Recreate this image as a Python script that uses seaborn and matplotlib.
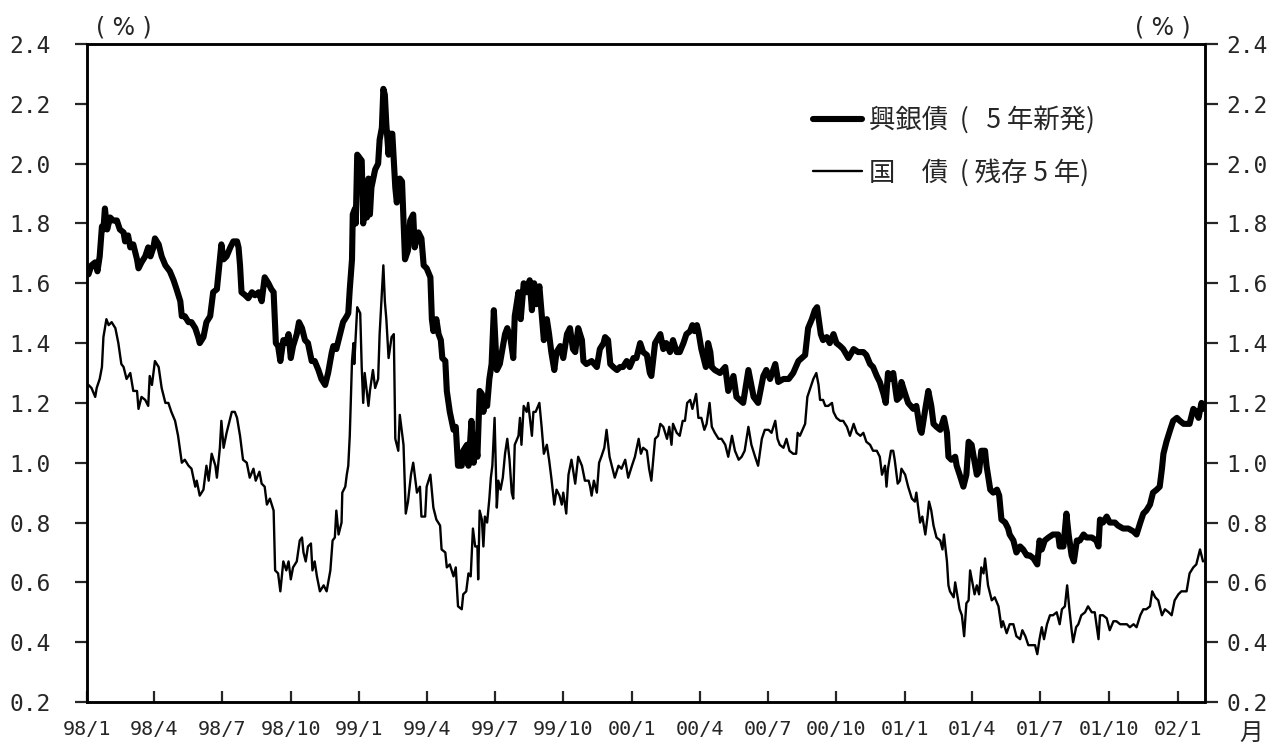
import numpy as np
import pandas as pd
import matplotlib
matplotlib.use("Agg")
import matplotlib.pyplot as plt
from matplotlib.lines import Line2D
from matplotlib.font_manager import FontProperties
import seaborn as sns

# Observation day (days since 1998-01-01) and yield (%)
BASE_DATE = "1998-01-01"

ikb_day = [2, 6, 11, 14, 17, 20, 22, 24, 27, 31, 35, 40, 44, 49, 51, 55, 58, 62, 67, 69, 73, 78, 82, 85, 89, 91, 96, 100, 105, 111, 116, 120, 125, 127, 131, 136, 140, 145, 149, 151, 156, 160, 165, 169, 174, 176, 178, 180, 183, 187, 192, 196, 201, 203, 205, 207, 212, 216, 221, 225, 230, 234, 238, 243, 247, 250, 253, 256, 259, 263, 267, 270, 273, 276, 281, 284, 288, 292, 296, 301, 305, 310, 314, 319, 323, 328, 330, 334, 339, 343, 348, 350, 352, 355, 356, 359, 360, 362, 365, 368, 370, 372, 375, 377, 379, 381, 386, 390, 392, 395, 397, 399, 401, 404, 406, 409, 413, 415, 419, 422, 426, 430, 433, 437, 439, 444, 448, 451, 455, 460, 462, 464, 468, 471, 474, 476, 480, 482, 486, 491, 494, 497, 502, 504, 509, 511, 513, 515, 518, 520, 523, 526, 529, 531, 533, 536, 539, 542, 545, 549, 553, 560, 563, 567, 571, 573, 578, 581, 585, 589, 593, 596, 599, 602, 606, 609, 612, 616, 619, 622, 626, 629, 634, 638, 643, 647, 651, 654, 658, 663, 665, 669, 676, 683, 687, 692, 694, 698, 701, 705, 710, 714, 718, 723, 727, 732, 736, 741, 745, 750, 754, 756, 761, 768, 772, 776, 781, 785, 790, 794, 799, 803, 808, 811, 814, 817, 819, 823, 826, 829, 832, 835, 837, 841, 848, 855, 859, 866, 870, 879, 886, 893, 899, 906, 910, 915, 922, 926, 933, 940, 946, 953, 962, 966, 971, 975, 978, 983, 986, 991, 995, 1000, 1004, 1009, 1013, 1020, 1027, 1033, 1040, 1044, 1049, 1053, 1058, 1062, 1067, 1070, 1073, 1078, 1080, 1085, 1089, 1091, 1096, 1100, 1107, 1111, 1116, 1118, 1123, 1127, 1131, 1134, 1138, 1143, 1148, 1152, 1154, 1158, 1163, 1165, 1169, 1174, 1178, 1181, 1185, 1190, 1192, 1195, 1198, 1203, 1205, 1210, 1214, 1219, 1222, 1225, 1230, 1234, 1236, 1241, 1245, 1250, 1254, 1259, 1263, 1268, 1273, 1276, 1279, 1283, 1288, 1294, 1301, 1303, 1308, 1312, 1315, 1319, 1322, 1326, 1330, 1335, 1339, 1346, 1352, 1355, 1357, 1361, 1366, 1370, 1377, 1381, 1388, 1395, 1402, 1406, 1411, 1415, 1419, 1424, 1428, 1433, 1437, 1440, 1442, 1446, 1451, 1455, 1460, 1464, 1469, 1473, 1477, 1482, 1486, 1489, 1493, 1495]
ikb_yield = [1.63, 1.66, 1.67, 1.64, 1.69, 1.79, 1.78, 1.85, 1.78, 1.82, 1.81, 1.81, 1.78, 1.77, 1.74, 1.76, 1.72, 1.73, 1.68, 1.65, 1.67, 1.69, 1.72, 1.69, 1.72, 1.75, 1.73, 1.69, 1.66, 1.64, 1.61, 1.58, 1.54, 1.49, 1.49, 1.47, 1.47, 1.45, 1.42, 1.40, 1.42, 1.47, 1.49, 1.57, 1.58, 1.63, 1.68, 1.73, 1.68, 1.69, 1.72, 1.74, 1.74, 1.72, 1.66, 1.57, 1.56, 1.55, 1.57, 1.56, 1.57, 1.54, 1.62, 1.60, 1.58, 1.57, 1.40, 1.39, 1.34, 1.41, 1.40, 1.43, 1.35, 1.39, 1.43, 1.47, 1.45, 1.41, 1.40, 1.34, 1.34, 1.31, 1.28, 1.26, 1.30, 1.37, 1.39, 1.38, 1.43, 1.47, 1.49, 1.50, 1.58, 1.68, 1.83, 1.85, 1.80, 2.03, 2.02, 2.01, 1.80, 1.93, 1.82, 1.95, 1.83, 1.92, 1.98, 2.00, 2.08, 2.12, 2.25, 2.23, 2.13, 2.03, 2.10, 2.10, 1.92, 1.87, 1.95, 1.94, 1.68, 1.71, 1.81, 1.83, 1.72, 1.77, 1.75, 1.66, 1.65, 1.62, 1.48, 1.44, 1.48, 1.43, 1.41, 1.35, 1.34, 1.24, 1.17, 1.11, 1.12, 0.99, 0.99, 1.04, 1.06, 0.99, 1.06, 1.14, 1.00, 1.09, 1.02, 1.24, 1.23, 1.17, 1.22, 1.19, 1.28, 1.33, 1.51, 1.31, 1.33, 1.43, 1.45, 1.42, 1.35, 1.49, 1.57, 1.48, 1.60, 1.57, 1.61, 1.51, 1.60, 1.53, 1.59, 1.50, 1.41, 1.48, 1.43, 1.37, 1.31, 1.37, 1.39, 1.35, 1.43, 1.45, 1.38, 1.37, 1.45, 1.41, 1.34, 1.33, 1.34, 1.32, 1.38, 1.40, 1.42, 1.41, 1.33, 1.32, 1.31, 1.32, 1.32, 1.34, 1.32, 1.35, 1.35, 1.40, 1.37, 1.36, 1.30, 1.29, 1.40, 1.43, 1.38, 1.40, 1.37, 1.41, 1.37, 1.37, 1.40, 1.43, 1.44, 1.46, 1.44, 1.46, 1.44, 1.38, 1.35, 1.32, 1.40, 1.37, 1.32, 1.31, 1.30, 1.32, 1.24, 1.29, 1.22, 1.20, 1.31, 1.22, 1.20, 1.29, 1.31, 1.28, 1.33, 1.27, 1.28, 1.28, 1.30, 1.34, 1.36, 1.45, 1.48, 1.51, 1.52, 1.43, 1.41, 1.42, 1.40, 1.43, 1.40, 1.39, 1.38, 1.35, 1.38, 1.37, 1.37, 1.36, 1.33, 1.32, 1.29, 1.27, 1.23, 1.20, 1.30, 1.28, 1.30, 1.21, 1.22, 1.27, 1.23, 1.20, 1.18, 1.19, 1.11, 1.10, 1.18, 1.24, 1.19, 1.13, 1.12, 1.11, 1.15, 1.10, 1.02, 1.01, 1.02, 0.99, 0.96, 0.92, 0.96, 1.07, 1.06, 0.99, 0.96, 0.97, 1.04, 1.04, 0.99, 0.91, 0.90, 0.91, 0.89, 0.81, 0.80, 0.78, 0.76, 0.74, 0.70, 0.72, 0.71, 0.69, 0.69, 0.68, 0.66, 0.74, 0.71, 0.74, 0.75, 0.76, 0.76, 0.72, 0.72, 0.83, 0.76, 0.69, 0.67, 0.74, 0.74, 0.76, 0.75, 0.75, 0.74, 0.72, 0.81, 0.80, 0.82, 0.80, 0.80, 0.79, 0.78, 0.78, 0.77, 0.76, 0.80, 0.83, 0.84, 0.86, 0.90, 0.91, 0.92, 0.98, 1.03, 1.07, 1.11, 1.14, 1.15, 1.14, 1.13, 1.13, 1.13, 1.18, 1.17, 1.15, 1.20, 1.18]

jgb_day = [2, 6, 11, 13, 17, 20, 22, 26, 29, 33, 38, 42, 46, 49, 53, 58, 62, 67, 69, 73, 78, 82, 84, 87, 91, 96, 100, 105, 109, 113, 118, 122, 127, 131, 136, 140, 145, 147, 151, 156, 160, 163, 167, 172, 174, 178, 180, 183, 187, 192, 194, 198, 201, 205, 209, 214, 218, 223, 226, 231, 234, 238, 241, 245, 250, 252, 256, 259, 263, 267, 270, 273, 276, 281, 285, 288, 290, 293, 296, 300, 302, 305, 308, 312, 317, 321, 326, 329, 332, 334, 337, 341, 342, 346, 348, 350, 352, 355, 357, 358, 362, 366, 368, 370, 372, 377, 379, 383, 386, 390, 392, 397, 399, 401, 404, 408, 411, 413, 417, 419, 424, 427, 430, 434, 437, 442, 446, 448, 453, 455, 460, 464, 468, 473, 475, 480, 482, 486, 491, 494, 497, 502, 504, 508, 511, 514, 517, 520, 523, 524, 526, 529, 531, 533, 536, 539, 541, 543, 546, 549, 551, 554, 557, 560, 563, 566, 569, 571, 573, 578, 580, 582, 585, 589, 591, 596, 598, 601, 606, 609, 612, 616, 619, 622, 626, 629, 633, 636, 638, 642, 645, 649, 654, 658, 663, 667, 672, 674, 676, 679, 683, 686, 689, 693, 696, 700, 703, 707, 712, 716, 721, 725, 730, 734, 739, 742, 745, 750, 753, 756, 761, 765, 768, 772, 777, 780, 783, 785, 790, 794, 798, 801, 804, 808, 811, 816, 819, 823, 827, 830, 834, 837, 841, 846, 850, 855, 859, 864, 868, 873, 877, 881, 886, 890, 895, 899, 904, 908, 913, 917, 922, 925, 928, 933, 937, 941, 946, 950, 952, 955, 962, 965, 969, 973, 977, 980, 982, 986, 989, 993, 998, 1000, 1004, 1009, 1013, 1018, 1022, 1027, 1031, 1036, 1040, 1044, 1049, 1053, 1058, 1062, 1065, 1069, 1071, 1073, 1077, 1080, 1082, 1086, 1089, 1091, 1096, 1100, 1105, 1109, 1111, 1116, 1119, 1123, 1126, 1128, 1131, 1134, 1138, 1143, 1146, 1148, 1152, 1154, 1156, 1161, 1163, 1165, 1169, 1172, 1175, 1178, 1181, 1183, 1186, 1189, 1192, 1195, 1198, 1201, 1203, 1207, 1212, 1216, 1221, 1225, 1227, 1232, 1236, 1241, 1245, 1250, 1253, 1257, 1261, 1265, 1270, 1273, 1276, 1279, 1282, 1286, 1290, 1294, 1299, 1303, 1306, 1310, 1313, 1316, 1319, 1321, 1325, 1328, 1332, 1337, 1341, 1346, 1350, 1355, 1357, 1361, 1366, 1370, 1375, 1379, 1384, 1388, 1393, 1397, 1402, 1406, 1411, 1415, 1419, 1424, 1427, 1431, 1435, 1440, 1444, 1449, 1453, 1457, 1462, 1466, 1473, 1477, 1482, 1486, 1491, 1493, 1495]
jgb_yield = [1.26, 1.25, 1.22, 1.25, 1.28, 1.32, 1.42, 1.48, 1.46, 1.47, 1.45, 1.40, 1.33, 1.32, 1.28, 1.30, 1.24, 1.24, 1.18, 1.22, 1.21, 1.19, 1.29, 1.26, 1.34, 1.32, 1.25, 1.20, 1.20, 1.17, 1.14, 1.09, 1.00, 1.01, 0.99, 0.98, 0.92, 0.94, 0.89, 0.91, 0.99, 0.94, 1.03, 0.99, 0.95, 1.05, 1.14, 1.05, 1.10, 1.15, 1.17, 1.17, 1.15, 1.09, 1.01, 1.00, 0.95, 0.98, 0.94, 0.97, 0.93, 0.92, 0.86, 0.88, 0.84, 0.64, 0.63, 0.57, 0.67, 0.64, 0.67, 0.61, 0.65, 0.67, 0.74, 0.75, 0.70, 0.67, 0.72, 0.73, 0.64, 0.67, 0.62, 0.57, 0.59, 0.57, 0.64, 0.74, 0.75, 0.84, 0.76, 0.80, 0.90, 0.92, 0.96, 0.99, 1.09, 1.34, 1.40, 1.33, 1.52, 1.50, 1.32, 1.20, 1.30, 1.19, 1.24, 1.31, 1.25, 1.28, 1.43, 1.66, 1.54, 1.48, 1.35, 1.42, 1.43, 1.08, 1.04, 1.16, 1.06, 0.83, 0.87, 0.96, 1.00, 0.90, 0.92, 0.82, 0.82, 0.92, 0.96, 0.85, 0.81, 0.79, 0.71, 0.70, 0.65, 0.66, 0.62, 0.65, 0.52, 0.51, 0.56, 0.57, 0.63, 0.62, 0.78, 0.72, 0.72, 0.61, 0.84, 0.81, 0.72, 0.82, 0.80, 0.88, 0.95, 0.99, 1.15, 0.85, 0.94, 0.91, 0.95, 1.03, 1.08, 1.01, 0.90, 0.88, 1.06, 1.09, 1.15, 1.06, 1.19, 1.17, 1.20, 1.09, 1.17, 1.17, 1.20, 1.12, 1.03, 1.06, 1.01, 0.95, 0.86, 0.91, 0.89, 0.86, 0.90, 0.83, 0.96, 1.01, 0.93, 1.02, 0.99, 0.94, 0.94, 0.92, 0.89, 0.94, 0.90, 1.00, 1.02, 1.05, 1.11, 1.02, 0.99, 0.95, 0.99, 0.98, 1.01, 0.95, 0.99, 1.02, 1.08, 1.03, 1.05, 1.04, 0.98, 0.94, 1.08, 1.09, 1.13, 1.12, 1.08, 1.12, 1.06, 1.13, 1.10, 1.09, 1.14, 1.14, 1.20, 1.21, 1.18, 1.23, 1.15, 1.15, 1.11, 1.13, 1.20, 1.12, 1.10, 1.08, 1.08, 1.06, 1.02, 1.09, 1.04, 1.01, 1.02, 1.04, 1.12, 1.06, 1.02, 0.99, 1.08, 1.11, 1.11, 1.10, 1.14, 1.08, 1.06, 1.05, 1.08, 1.04, 1.03, 1.03, 1.10, 1.09, 1.13, 1.22, 1.25, 1.28, 1.30, 1.26, 1.21, 1.21, 1.19, 1.19, 1.20, 1.17, 1.15, 1.14, 1.14, 1.12, 1.09, 1.13, 1.10, 1.09, 1.10, 1.07, 1.06, 1.04, 1.04, 1.02, 0.96, 0.99, 0.92, 0.98, 1.04, 1.04, 1.01, 0.93, 0.94, 0.98, 0.96, 0.92, 0.88, 0.87, 0.90, 0.80, 0.82, 0.76, 0.82, 0.87, 0.84, 0.79, 0.75, 0.74, 0.71, 0.76, 0.67, 0.59, 0.57, 0.55, 0.60, 0.57, 0.51, 0.49, 0.42, 0.53, 0.54, 0.64, 0.60, 0.56, 0.59, 0.56, 0.65, 0.63, 0.68, 0.59, 0.54, 0.55, 0.52, 0.45, 0.47, 0.43, 0.46, 0.46, 0.42, 0.41, 0.44, 0.42, 0.39, 0.39, 0.39, 0.36, 0.41, 0.45, 0.41, 0.46, 0.49, 0.49, 0.50, 0.46, 0.51, 0.52, 0.59, 0.51, 0.44, 0.40, 0.45, 0.46, 0.49, 0.50, 0.52, 0.50, 0.50, 0.41, 0.49, 0.49, 0.48, 0.44, 0.47, 0.47, 0.46, 0.46, 0.46, 0.45, 0.46, 0.45, 0.49, 0.51, 0.51, 0.52, 0.57, 0.55, 0.54, 0.49, 0.51, 0.50, 0.49, 0.54, 0.56, 0.57, 0.57, 0.63, 0.65, 0.66, 0.71, 0.69, 0.67]

ikb_label = "興銀債  (   5 年新発)"
jgb_label = "国　債  ( 残存 5 年)"
unit_label = "( % )"
month_label = "月"

x_end_day = 1497
y_ticks = [0.2, 0.4, 0.6, 0.8, 1.0, 1.2, 1.4, 1.6, 1.8, 2.0, 2.2, 2.4]
quarter_ticks = pd.date_range("1998-01-01", "2002-01-01", freq="QS")
quarter_labels = [f"{d:%y}/{d.month}" for d in quarter_ticks]

base = pd.Timestamp(BASE_DATE)
ikb = pd.DataFrame({"date": base + pd.to_timedelta(ikb_day, unit="D"), "yield": ikb_yield})
jgb = pd.DataFrame({"date": base + pd.to_timedelta(jgb_day, unit="D"), "yield": jgb_yield})

sns.set_theme(style="ticks")
plt.rcParams["font.family"] = ["DejaVu Sans Mono", "DejaVu Sans"]
cjk = ["Noto Sans CJK JP", "DejaVu Sans"]

W, H = 1268, 747
fig = plt.figure(figsize=(W / 100, H / 100), dpi=100)
ax = fig.add_axes([87 / W, (H - 702) / H, (1204.5 - 87) / W, (702 - 44) / H])

THICK, THIN = 4.4, 1.7
sns.lineplot(data=ikb, x="date", y="yield", color="black", linewidth=THICK,
             estimator=None, ax=ax)
sns.lineplot(data=jgb, x="date", y="yield", color="black", linewidth=THIN,
             estimator=None, ax=ax)

ax.set_xlim(base, base + pd.Timedelta(days=x_end_day))
ax.set_ylim(0.2, 2.4)
ax.set_xlabel("")
ax.set_ylabel("")
ax.set_xticks(quarter_ticks)
ax.set_xticklabels(quarter_labels, fontsize=14.5)
ax.set_yticks(y_ticks)
ax.set_yticklabels([f"{v:.1f}" for v in y_ticks], fontsize=16.5)
ax.tick_params(axis="x", direction="in", length=8, width=1.6, pad=13, bottom=True)
ax.tick_params(axis="y", direction="out", length=9, width=1.6, pad=17, left=True)

ax2 = ax.twinx()
ax2.set_ylim(0.2, 2.4)
ax2.set_yticks(y_ticks)
ax2.set_yticklabels([f"{v:.1f}" for v in y_ticks], fontsize=16.5)
ax2.tick_params(axis="y", direction="out", length=9, width=1.6, pad=7, right=True)

for a in (ax, ax2):
    for side, sp in a.spines.items():
        sp.set_visible(True)
        sp.set_color("black")
        sp.set_linewidth(1.8)

handles = [Line2D([], [], color="black", linewidth=THICK),
           Line2D([], [], color="black", linewidth=THIN)]
ax2.legend(handles, [ikb_label, jgb_label], loc="upper left",
           bbox_to_anchor=(813 / W, 1 - 106 / H), bbox_transform=fig.transFigure,
           frameon=False, borderpad=0, borderaxespad=0, handlelength=1.85,
           handletextpad=0.26, labelspacing=0.95,
           prop=FontProperties(family=cjk, size=19))

fig.text(124 / W, 1 - 27 / H, unit_label, ha="center", va="center",
         fontsize=17, family=["DejaVu Sans"])
fig.text(1163 / W, 1 - 27 / H, unit_label, ha="center", va="center",
         fontsize=17, family=["DejaVu Sans"])
fig.text(1251 / W, 1 - 733 / H, month_label, ha="center", va="center",
         fontsize=17, family=cjk)

fig.savefig("out.png", dpi=100, facecolor="white")
